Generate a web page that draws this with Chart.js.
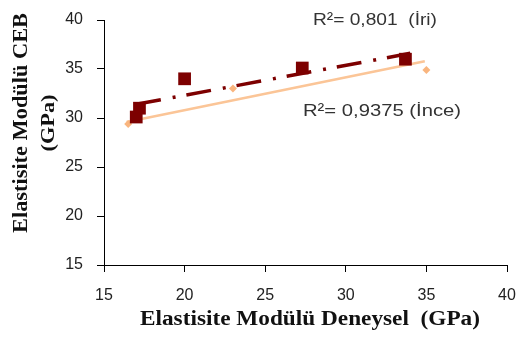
<!DOCTYPE html>
<html>
<head>
<meta charset="utf-8">
<script src="https://cdn.jsdelivr.net/npm/chart.js@4/dist/chart.umd.min.js"></script>
<style>
  html, body { margin: 0; padding: 0; background: #fff; }
  #chart { display: block; }
</style>
</head>
<body>
<canvas id="chart" width="517" height="340"></canvas>
<script>
// ===== data =====
const iriX = [17.0, 17.2, 20.0, 27.3, 33.7];
const iriY = [30.1, 31.0, 34.0, 35.1, 36.0];
const inceX = [16.5, 23.0, 35.0];
const inceY = [29.4, 33.0, 34.9];

// trend line end points
const iriTrendX = [17.0, 34.0];
const iriTrendY = [31.4, 36.6];
const inceTrendX = [16.4, 34.9];
const inceTrendY = [29.6, 35.8];

const xTicks = [15, 20, 25, 30, 35, 40];
const yTicks = [15, 20, 25, 30, 35, 40];

const xTitle = "Elastisite Modülü Deneysel  (GPa)";
const yTitle = ["Elastisite Modülü CEB", "(GPa)"];
const iriLabel = "R²= 0,801  (İri)";
const inceLabel = "R²= 0,9375 (İnce)";

function pts(xs, ys) {
    return xs.map((x, i) => ({ x: x, y: ys[i] }));
}

// the source picture is a bit stretched sideways, so text is squeezed to a width
function fitText(ctx, text, x, y, width) {
    const w = ctx.measureText(text).width;
    ctx.save();
    ctx.translate(x, y);
    ctx.scale(width / w, 1);
    ctx.fillText(text, 0, 0);
    ctx.restore();
}

const textPlugin = {
    id: "texts",
    afterDraw(chart) {
        const ctx = chart.ctx;
        ctx.save();
        ctx.fillStyle = "#111";
        ctx.textAlign = "center";
        ctx.textBaseline = "middle";
        ctx.font = "bold 20px 'Liberation Serif', 'Times New Roman', serif";
        fitText(ctx, xTitle, 310, 320, 340);

        ctx.translate(22, 123);
        ctx.rotate(-Math.PI / 2);
        fitText(ctx, yTitle[0], 0, 0, 220);
        ctx.font = "bold 19px 'Liberation Serif', 'Times New Roman', serif";
        fitText(ctx, yTitle[1], 0, 27, 57);
        ctx.restore();

        ctx.save();
        ctx.fillStyle = "#333";
        ctx.font = "17px 'Liberation Sans', Arial, sans-serif";
        ctx.textBaseline = "middle";
        ctx.textAlign = "left";
        fitText(ctx, iriLabel, 313, 20, 124);
        fitText(ctx, inceLabel, 303, 111, 158);
        ctx.restore();
    }
};

const tickFont = { family: "'Liberation Sans', Arial, sans-serif", size: 16 };

function noPad(s) {
    s.paddingLeft = 0;
    s.paddingRight = 0;
    s.paddingTop = 0;
    s.paddingBottom = 0;
}

new Chart(document.getElementById("chart").getContext("2d"), {
    type: "scatter",
    data: {
        datasets: [
            {
                data: pts(iriX, iriY),
                pointStyle: "rect",
                pointRadius: 9,
                pointHoverRadius: 9,
                backgroundColor: "#7d0000",
                borderColor: "#7d0000",
                borderWidth: 0,
                order: 1
            },
            {
                data: pts(iriTrendX, iriTrendY),
                showLine: true,
                pointRadius: 0,
                borderColor: "#7d0000",
                borderWidth: 3.5,
                borderDash: [25, 12, 3, 11],
                order: 2
            },
            {
                data: pts(inceX, inceY),
                pointStyle: "rectRot",
                pointRadius: 4,
                backgroundColor: "#f9b57e",
                borderColor: "#f9b57e",
                borderWidth: 0,
                order: 3
            },
            {
                data: pts(inceTrendX, inceTrendY),
                showLine: true,
                pointRadius: 0,
                borderColor: "#fbc597",
                borderWidth: 2.5,
                order: 4
            }
        ]
    },
    options: {
        responsive: false,
        animation: false,
        events: [],
        layout: { padding: { top: 20, right: 10, left: 0, bottom: 0 } },
        plugins: {
            legend: { display: false },
            tooltip: { enabled: false }
        },
        scales: {
            x: {
                type: "linear",
                min: 15,
                max: 40,
                afterBuildTicks: (s) => { s.ticks = xTicks.map((v) => ({ value: v })); },
                afterFit: (s) => { s.height = 75; noPad(s); },
                ticks: { font: tickFont, color: "#222", padding: 14, maxRotation: 0 },
                grid: { drawOnChartArea: false, drawTicks: true, tickLength: 7, color: "#000" },
                border: { color: "#000", width: 1 }
            },
            y: {
                type: "linear",
                min: 15,
                max: 40,
                afterBuildTicks: (s) => { s.ticks = yTicks.map((v) => ({ value: v })); },
                afterFit: (s) => { s.width = 104; noPad(s); },
                ticks: { font: tickFont, color: "#222", padding: 14 },
                grid: { drawOnChartArea: false, drawTicks: true, tickLength: 7, color: "#000" },
                border: { color: "#000", width: 1 }
            }
        }
    },
    plugins: [textPlugin]
});
</script>
</body>
</html>
